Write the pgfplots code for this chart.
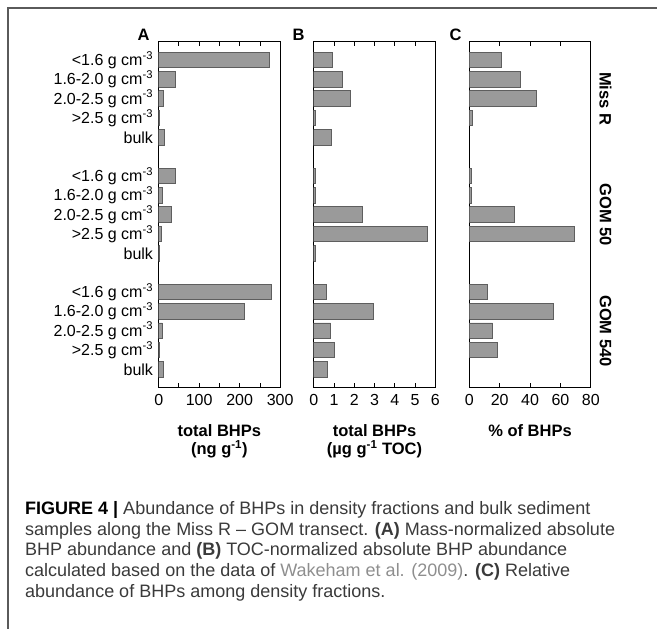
\documentclass[border=0pt]{standalone}
\usepackage{fontspec}
\setmainfont{Liberation Sans}
\usepackage{pgfplots}
\pgfplotsset{compat=1.18}
\definecolor{barfill}{HTML}{9A9A9A}
\definecolor{baredge}{HTML}{5E5E5E}
\definecolor{framecol}{HTML}{5A5A5A}
\definecolor{captxt}{HTML}{3A3A3A}
\definecolor{reftxt}{HTML}{8E8E8E}

\pgfplotsset{
  panel/.style={
    scale only axis, width=121.5pt, height=346.7pt,
    anchor=north west,
    xbar, bar width=15.5pt, bar shift=0pt,
    y dir=reverse, ymin=-0.98, ymax=16.95, xmin=0,
    ytick={0,1,2,3,4,6,7,8,9,10,12,13,14,15,16},
    ytick pos=left,
    xtick pos=both, xticklabel pos=lower, tick align=inside,
    major tick length=5pt, minor tick length=5pt,
    axis line style={black, line width=0.9pt},
    tick style={black, line width=0.9pt},
    ytick style={draw=none},
    /pgf/number format/assume math mode=true,
    tick label style={font=\fontsize{16}{16}\selectfont},
    xticklabel style={inner sep=0pt, anchor=north, yshift=-6.6pt},
    yticklabels={},
  },
  barstyle/.style={fill=barfill, draw=baredge, line width=0.8pt},
}

\begin{document}
\begin{tikzpicture}[x=1pt,y=1pt]
\path[use as bounding box] (0,0) rectangle (657,-629);
\draw[framecol, line width=1.4pt] (8,-629) -- (8,-8) -- (657,-8);

% Panel A
\begin{axis}[panel, at={(158.7pt,-41pt)}, xmax=300,
  xtick={0,100,200,300}, minor xtick={50,150,250},
  yticklabels={{<1.6 g cm\textsuperscript{-3}},{1.6-2.0 g cm\textsuperscript{-3}},{2.0-2.5 g cm\textsuperscript{-3}},{>2.5 g cm\textsuperscript{-3}},bulk,
               {<1.6 g cm\textsuperscript{-3}},{1.6-2.0 g cm\textsuperscript{-3}},{2.0-2.5 g cm\textsuperscript{-3}},{>2.5 g cm\textsuperscript{-3}},bulk,
               {<1.6 g cm\textsuperscript{-3}},{1.6-2.0 g cm\textsuperscript{-3}},{2.0-2.5 g cm\textsuperscript{-3}},{>2.5 g cm\textsuperscript{-3}},bulk},
  yticklabel style={anchor=east, inner sep=0pt, xshift=-5.5pt}]
\addplot[barstyle] coordinates {(274,0) (41,1) (10.6,2) (1.5,3) (14,4)
  (41,6) (9,7) (31,8) (6.5,9) (1,10)
  (279,12) (212.7,13) (9,14) (1.5,15) (11.5,16)};
\end{axis}

% Panel B
\begin{axis}[panel, at={(313.7pt,-41pt)}, xmax=6,
  xtick={0,1,2,3,4,5,6}]
\addplot[barstyle] coordinates {(0.90,0) (1.41,1) (1.82,2) (0.08,3) (0.87,4)
  (0.10,6) (0.10,7) (2.40,8) (5.62,9) (0.06,10)
  (0.64,12) (2.97,13) (0.83,14) (1.0,15) (0.69,16)};
\end{axis}

% Panel C
\begin{axis}[panel, at={(469.3pt,-41pt)}, xmax=80,
  xtick={0,20,40,60,80}]
\addplot[barstyle] coordinates {(21.3,0) (33.9,1) (44,2) (2.2,3)
  (1.6,6) (1.6,7) (29.5,8) (69.2,9)
  (12.1,12) (55.4,13) (15.4,14) (18.7,15)};
\end{axis}

% panel letters
\node[font=\fontsize{16.5}{16.5}\selectfont\bfseries, anchor=base] at (143.7,-40.7) {A};
\node[font=\fontsize{16.5}{16.5}\selectfont\bfseries, anchor=base] at (298.5,-40.7) {B};
\node[font=\fontsize{16.5}{16.5}\selectfont\bfseries, anchor=base] at (455.5,-40.7) {C};

% axis titles
\begin{scope}[every node/.style={font=\fontsize{16.5}{16.5}\selectfont\bfseries, anchor=base}]
\node at (219.35,-436.7) {total BHPs};
\node at (219.35,-454.6) {(ng g\textsuperscript{-1})};
\node at (374.5,-436.7) {total BHPs};
\node at (374.5,-454.6) {(µg g\textsuperscript{-1} TOC)};
\node at (530,-436.7) {\% of BHPs};
\end{scope}

% site labels
\begin{scope}[every node/.style={font=\fontsize{16.5}{16.5}\selectfont\bfseries, rotate=-90}]
\node at (605.5,-98.7) {Miss R};
\node at (605.5,-214.8) {GOM 50};
\node at (605.5,-331) {GOM 540};
\end{scope}

% caption
\begin{scope}[every node/.style={font=\fontsize{18}{18}\selectfont, anchor=base west, inner sep=0pt, text=captxt}]
\node at (25,-514) {\textcolor{black}{\bfseries FIGURE 4 |} Abundance of BHPs in density fractions and bulk sediment};
\node at (25,-535) {samples along the Miss R – GOM transect. \textbf{(A)} Mass-normalized absolute};
\node at (25,-555.5) {BHP abundance and \textbf{(B)} TOC-normalized absolute BHP abundance};
\node at (25,-576) {calculated based on the data of \textcolor{reftxt}{Wakeham et al. (2009)}. \textbf{(C)} Relative};
\node at (25,-597) {abundance of BHPs among density fractions.};
\end{scope}
\end{tikzpicture}
\end{document}
